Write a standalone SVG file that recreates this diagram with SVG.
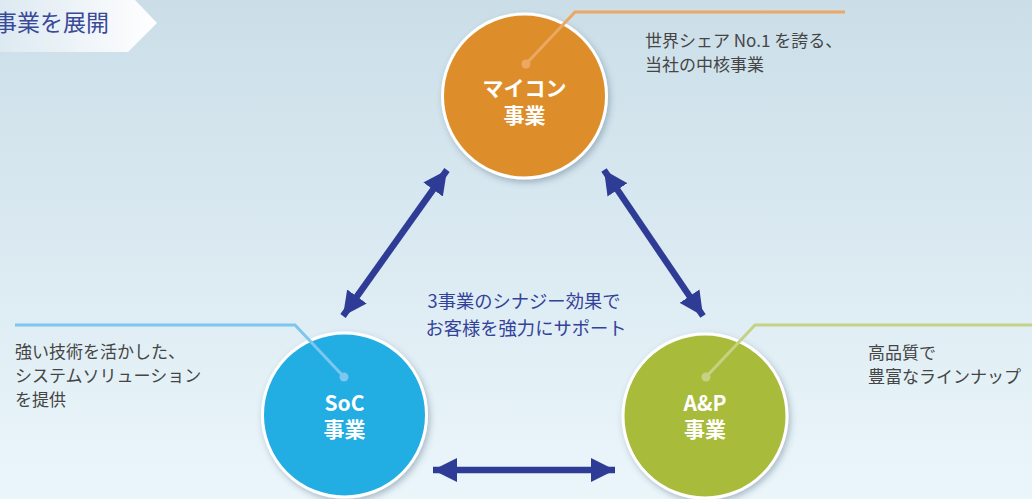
<svg xmlns="http://www.w3.org/2000/svg" width="1032" height="499" viewBox="0 0 1032 499">
<defs>
<linearGradient id="bg" x1="0" y1="0" x2="0" y2="1">
<stop offset="0" stop-color="#cbdee8"/>
<stop offset="1" stop-color="#ebf6fb"/>
</linearGradient>
<linearGradient id="banner" x1="0" y1="0" x2="1" y2="0">
<stop offset="0" stop-color="#dde9f1"/>
<stop offset="1" stop-color="#ffffff"/>
</linearGradient>
<filter id="sh" x="-20%" y="-20%" width="140%" height="140%">
<feDropShadow dx="2" dy="3" stdDeviation="3" flood-color="#30506a" flood-opacity="0.35"/>
</filter>
<marker id="ah" viewBox="0 0 24 24" refX="24" refY="12" markerWidth="24" markerHeight="24" markerUnits="userSpaceOnUse" orient="auto-start-reverse">
<path d="M0,0 L24,12 L0,24 Z" fill="#2f3c96"/>
</marker>
<style>
.desc{font-family:"Noto Sans CJK JP","Noto Sans",sans-serif;font-size:17px;fill:#454545}
.ctr{font-family:"Noto Sans CJK JP","Noto Sans",sans-serif;font-size:18.3px;fill:#34439a;text-anchor:middle}
.lbl{font-family:"Noto Sans CJK JP","Noto Sans",sans-serif;font-size:21px;font-weight:bold;fill:#ffffff;text-anchor:middle}
.circ{stroke:#ffffff;stroke-width:3;filter:url(#sh)}
.arr{stroke:#2f3c96;stroke-width:6.5;fill:none;marker-start:url(#ah);marker-end:url(#ah)}
.lead{fill:none;stroke-width:3}
</style>
</defs>
<rect width="1032" height="499" fill="url(#bg)"/>
<g id="banner-title">
<path d="M0,0 L135,0 L157,23 L128,52 L0,52 Z" fill="url(#banner)"/>
<text x="-6" y="31" style="font-family:'Noto Sans CJK JP','Noto Sans',sans-serif;font-size:23px;fill:#3a4a9a">事業を展開</text>
</g>
<g id="connectors">
<line class="arr" x1="447" y1="170" x2="343" y2="316"/>
<line class="arr" x1="604" y1="170" x2="703" y2="316"/>
<line class="arr" x1="433" y1="470" x2="615" y2="470"/>
</g>
<g id="center-text">
<text class="ctr" x="524" y="308">3事業のシナジー効果で</text>
<text class="ctr" x="526" y="335">お客様を強力にサポート</text>
</g>
<g id="node-maicon">
<circle class="circ" cx="524.5" cy="96" r="82" fill="#dd8e29"/>
<polyline class="lead" points="526,64 575,12 845,12" stroke="#eba862"/>
<circle cx="526" cy="64" r="4.5" fill="#eba862"/>
<text class="lbl" x="524.5" y="96">マイコン</text>
<text class="lbl" x="524.5" y="123">事業</text>
<text class="desc" x="645" y="47">世界シェア No.1 を誇る、</text>
<text class="desc" x="645" y="71">当社の中核事業</text>
</g>
<g id="node-soc">
<circle class="circ" cx="344.5" cy="415" r="82" fill="#22ade3"/>
<polyline class="lead" points="15,325 295,325 344,377" stroke="#7cc6ef"/>
<circle cx="344" cy="377" r="4.5" fill="#7cc6ef"/>
<text class="lbl" x="344.5" y="411">SoC</text>
<text class="lbl" x="344.5" y="437">事業</text>
<text class="desc" x="15" y="358">強い技術を活かした、</text>
<text class="desc" x="15" y="382">システムソリューション</text>
<text class="desc" x="15" y="406">を提供</text>
</g>
<g id="node-ap">
<circle class="circ" cx="705" cy="416" r="82" fill="#a9bb3a"/>
<polyline class="lead" points="706,377 755,325 1032,325" stroke="#c6d283"/>
<circle cx="706" cy="377" r="4.5" fill="#c6d283"/>
<text class="lbl" x="705" y="411">A&amp;P</text>
<text class="lbl" x="705" y="437">事業</text>
<text class="desc" x="868" y="359">高品質で</text>
<text class="desc" x="868" y="383">豊富なラインナップ</text>
</g>
</svg>
